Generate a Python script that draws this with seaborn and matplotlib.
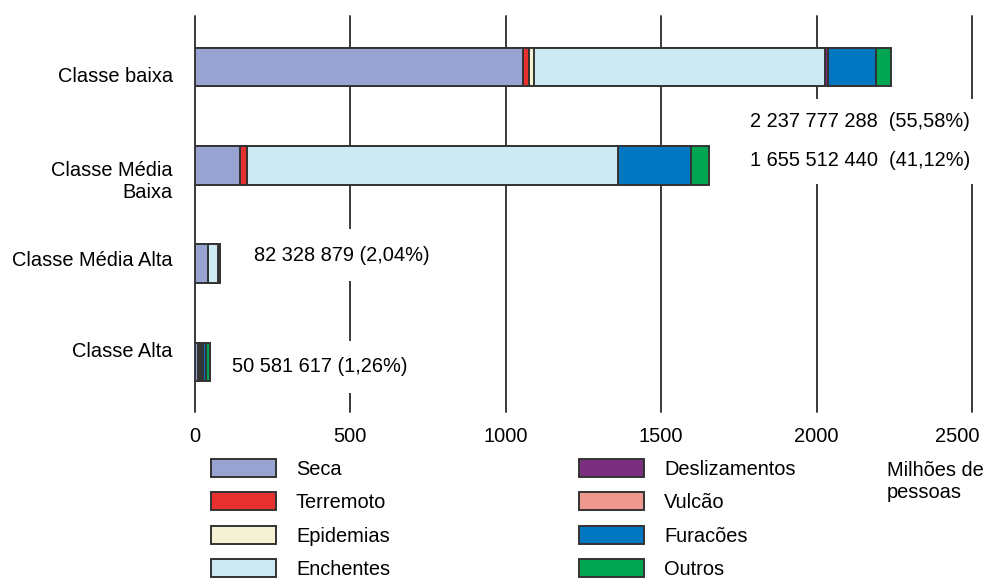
import numpy as np
import pandas as pd
import matplotlib
matplotlib.use("Agg")
import matplotlib.pyplot as plt
from matplotlib.patches import Patch
from matplotlib.transforms import ScaledTranslation
import seaborn as sns

# Income classes (top to bottom) and hazard types (stack order)
classes = ["Classe baixa", "Classe Média\nBaixa", "Classe Média Alta", "Classe Alta"]
hazards = ["Seca", "Terremoto", "Epidemias", "Enchentes",
           "Deslizamentos", "Vulcão", "Furacões", "Outros"]
colors = ["#99a3d1", "#e8312f", "#f5f2d3", "#cde9f3",
          "#7b2d7e", "#ee9890", "#0077c0", "#00a651"]

# People affected, in millions, per hazard and class
seca = [1055, 147, 42, 10]
terremoto = [22, 23, 0, 3]
epidemias = [15, 0, 0, 3]
enchentes = [936, 1193, 34, 5]
deslizamentos = [8, 0, 3, 3]
vulcao = [0, 0, 0, 2]
furacoes = [155, 235, 3, 12]
outros = [47, 57, 0, 13]

# Totals per class (people) and share of the overall total (%)
total_people = [2237777288, 1655512440, 82328879, 50581617]
total_share = [55.58, 41.12, 2.04, 1.26]

x_ticks = [0, 500, 1000, 1500, 2000, 2500]

sns.set_style("white")
plt.rcParams["font.family"] = ["Liberation Sans", "DejaVu Sans"]
plt.rcParams["font.size"] = 14.4
plt.rcParams["text.color"] = "black"
plt.rcParams["xtick.color"] = "black"
plt.rcParams["ytick.color"] = "black"

W, H, DPI = 984, 584, 100
fig = plt.figure(figsize=(W / DPI, H / DPI), dpi=DPI)
fig.patch.set_facecolor("white")
ax = fig.add_axes([194.5 / W, 1 - 412 / H, (972 - 194.5) / W, 396 / H])

df = pd.DataFrame(dict(zip(hazards, [seca, terremoto, epidemias, enchentes,
                                      deslizamentos, vulcao, furacoes, outros])),
                   index=classes)
cum = df.cumsum(axis=1)

edge = "#333333"
# Stacked bars: draw cumulative totals from the longest down to the shortest
for h, c in reversed(list(zip(hazards, colors))):
    sns.barplot(x=cum[h].values, y=classes, order=classes, orient="h",
                color=c, saturation=1, edgecolor=edge, linewidth=1.4,
                width=0.39, ax=ax)

ax.set_xlim(0, 2500)
ax.set_ylim(3.509, -0.519)
ax.set_xticks(x_ticks)
ax.set_xticklabels([str(t) for t in x_ticks])
ax.set_xlabel("")
ax.set_ylabel("")
ax.set_axisbelow(True)
ax.grid(axis="x", color="#3a3a3a", linewidth=1.4)
ax.grid(axis="y", visible=False)
for gl in ax.get_xgridlines():
    gl.set_clip_on(False)
sns.despine(ax=ax, left=True, bottom=True)
ax.tick_params(axis="x", length=0, pad=11, labelsize=14.4, labelcolor="black")
ax.tick_params(axis="y", length=0, pad=15.5, labelsize=14.4, labelcolor="black")

# Keep the last x tick label inside the figure
last = ax.get_xticklabels()[-1]
last.set_transform(last.get_transform() +
                   ScaledTranslation(-15 / DPI, 0, fig.dpi_scale_trans))

# Category labels, nudged vertically (pixels, positive = down)
ax.set_yticks(range(len(classes)))
ax.set_yticklabels(classes, multialignment="right")
nudges = [7, 13, -5, -12]
for lab, dy in zip(ax.get_yticklabels(), nudges):
    lab.set_transform(lab.get_transform() +
                      ScaledTranslation(0, -dy / DPI, fig.dpi_scale_trans))


def fmt_people(n):
    return f"{n:,}".replace(",", " ")


def fmt_share(p):
    return f"{p:.2f}".replace(".", ",")


labels = [f"{fmt_people(n)}{'  ' if i < 2 else ' '}({fmt_share(p)}%)"
          for i, (n, p) in enumerate(zip(total_people, total_share))]

box = dict(facecolor="white", edgecolor="none")
ax.text(1786, 0.753, labels[0] + "\n" + labels[1], ha="left", va="center",
        linespacing=2.3, zorder=6, clip_on=False,
        bbox=dict(box, pad=10))
ax.text(191, 1.913, labels[2], ha="left", va="center", zorder=6,
        bbox=dict(box, pad=12))
ax.text(120, 3.05, labels[3], ha="left", va="center", zorder=6,
        bbox=dict(box, pad=12))

# Legend in two columns below the chart
handles = [Patch(facecolor=c, edgecolor=edge, linewidth=1.4) for c in colors]
leg_kw = dict(loc="upper left", frameon=False, borderpad=0, borderaxespad=0,
              handlelength=3.25, handleheight=1.0, handletextpad=1.0,
              labelspacing=0.68, fontsize=14.4, labelcolor="black")
leg1 = fig.legend(handles[:4], hazards[:4],
                  bbox_to_anchor=(211 / W, 1 - 459 / H), **leg_kw)
leg2 = fig.legend(handles[4:], hazards[4:],
                  bbox_to_anchor=(579 / W, 1 - 459 / H), **leg_kw)

fig.text(887 / W, 1 - 482 / H, "Milhões de\npessoas", ha="left", va="center",
         linespacing=1.2, fontsize=14.4)

fig.savefig("out.png", dpi=DPI, facecolor="white")
